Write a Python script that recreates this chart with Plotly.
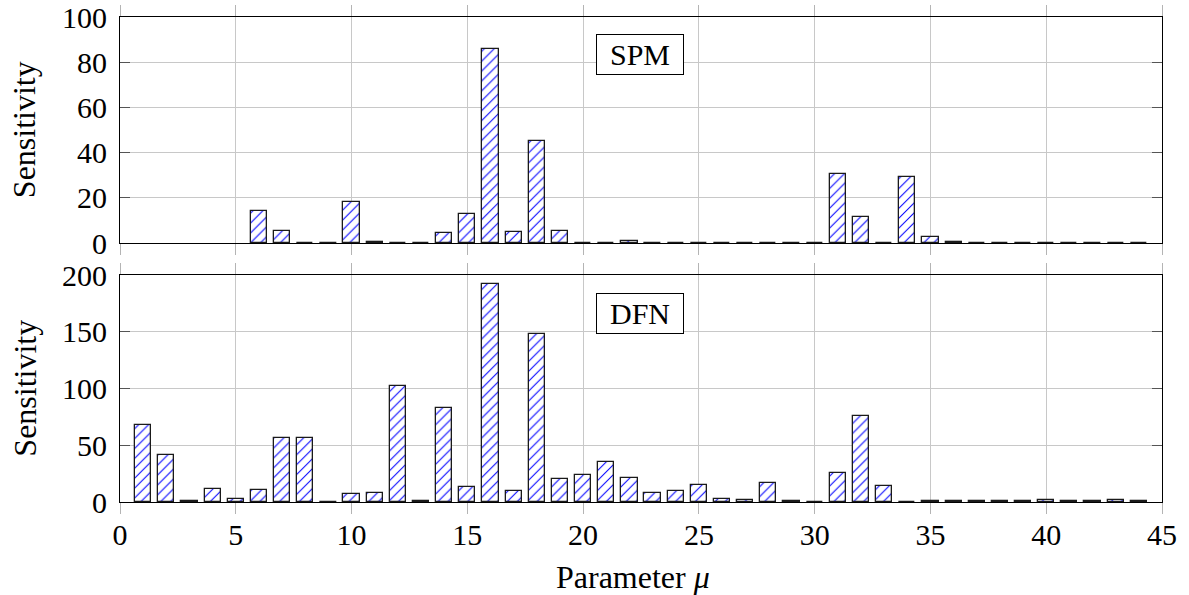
import plotly.graph_objects as go
from plotly.subplots import make_subplots

params = list(range(1, 45))

spm = [None, None, None, None, None,
       14, 5.5, 0, 0, 18, 0.5, 0, 0, 4.6, 12.7,
       86, 4.7, 45, 5.4, 0, 0, 0.8, 0, 0, 0,
       0, 0, 0, 0, 0, 30.5, 11.4, 0, 29, 2.5,
       0.4, 0, 0, 0, 0, 0, 0, 0, 0]

dfn = [68, 41, 1, 11.7, 2.6, 10.6, 56, 56.5, 0, 6.7,
       8.2, 102, 1, 83, 13.5, 192, 9.7, 148, 20.3, 23.5,
       35.3, 20.8, 7.9, 9.7, 15, 2.6, 1.8, 17, 0.8, 0.3,
       25.6, 76, 14.1, 0.3, 0.8, 0.8, 0.5, 0.8, 0.5, 1.8,
       1, 1.2, 1.8, 0.7]

x_ticks = [0, 5, 10, 15, 20, 25, 30, 35, 40, 45]
spm_yticks = [0, 20, 40, 60, 80, 100]
dfn_yticks = [0, 50, 100, 150, 200]

FONT = "Liberation Serif"
FS = 30
TFS = 32

fig = make_subplots(rows=2, cols=1, shared_xaxes=False, vertical_spacing=0.066)

bar_style = dict(
    color="white",
    line=dict(color="#1a1a1a", width=1.3),
    pattern=dict(shape="/", fgcolor="#0000ff", bgcolor="white",
                 size=7, solidity=0.15, fillmode="replace"),
)

fig.add_trace(go.Bar(x=params, y=spm, width=0.7, marker=bar_style,
                     showlegend=False), row=1, col=1)
fig.add_trace(go.Bar(x=params, y=dfn, width=0.7, marker=bar_style,
                     showlegend=False), row=2, col=1)

xcommon = dict(range=[0, 45], tickvals=x_ticks, showgrid=True,
               gridcolor="#c8c8c8", gridwidth=1, zeroline=False,
               showline=True, linecolor="black", linewidth=1,
               mirror="ticks", ticks="outside", ticklen=11,
               tickcolor="#b4b4b4", tickwidth=1, automargin=False,
               ticklabeloverflow="allow",
               tickfont=dict(family=FONT, size=FS, color="black"))
fig.update_xaxes(**xcommon, showticklabels=False, row=1, col=1)
fig.update_xaxes(**xcommon, showticklabels=True, ticklabelstandoff=-5,
                 row=2, col=1)

ycommon = dict(showgrid=True, gridcolor="#c8c8c8", gridwidth=1,
               zeroline=False, showline=True, linecolor="black",
               linewidth=1, mirror="ticks", ticks="inside", ticklen=10,
               tickcolor="#555555", tickwidth=1, ticklabelstandoff=6,
               automargin=False, ticklabeloverflow="allow",
               tickfont=dict(family=FONT, size=FS, color="black"))
fig.update_yaxes(**ycommon, range=[0, 100], tickvals=spm_yticks,
                 domain=[0.534, 1.0], row=1, col=1)
fig.update_yaxes(**ycommon, range=[0, 200], tickvals=dfn_yticks,
                 domain=[0.0, 0.468], row=2, col=1)

annfont = dict(family=FONT, size=FS, color="black")
titlefont = dict(family=FONT, size=TFS, color="black")
fig.add_annotation(x=22.46, y=83.4, xref="x", yref="y", text="SPM",
                   showarrow=False, font=annfont, bgcolor="white",
                   bordercolor="black", borderwidth=1, borderpad=3,
                   width=80)
fig.add_annotation(x=22.46, y=166.5, xref="x2", yref="y2", text="DFN",
                   showarrow=False, font=annfont, bgcolor="white",
                   bordercolor="black", borderwidth=1, borderpad=3,
                   width=80)

fig.add_annotation(x=-0.092, y=0.767, xref="paper", yref="paper",
                   text="Sensitivity", textangle=-90, showarrow=False,
                   xanchor="center", yanchor="middle", font=titlefont)
fig.add_annotation(x=-0.092, y=0.234, xref="paper", yref="paper",
                   text="Sensitivity", textangle=-90, showarrow=False,
                   xanchor="center", yanchor="middle", font=titlefont)
fig.add_annotation(x=0.492, y=-0.155, xref="paper", yref="paper",
                   text="Parameter <i>μ</i>", showarrow=False,
                   xanchor="center", yanchor="middle", font=titlefont)

fig.update_layout(width=1189, height=595,
                  margin=dict(l=120, r=27, t=17, b=93, autoexpand=False),
                  plot_bgcolor="white", paper_bgcolor="white",
                  hovermode=False,
                  bargap=0, font=dict(family=FONT, size=FS, color="black"))

fig.write_html("out.html",
               config={"displayModeBar": False},
               post_script="document.body.style.margin='0';")
